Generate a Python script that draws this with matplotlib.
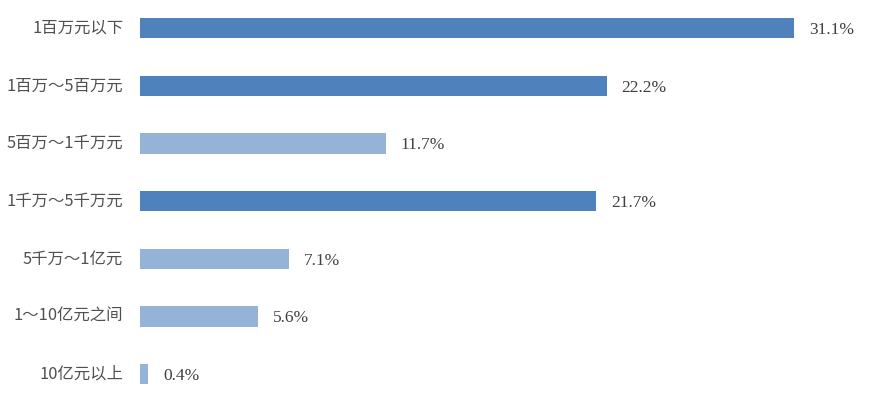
import matplotlib
matplotlib.use("Agg")
import matplotlib.pyplot as plt

# data
categories = ["1百万元以下", "1百万～5百万元", "5百万～1千万元", "1千万～5千万元",
              "5千万～1亿元", "1～10亿元之间", "10亿元以上"]
shares = [31.1, 22.2, 11.7, 21.7, 7.1, 5.6, 0.4]
highlight = [True, True, False, True, False, False, False]

dark = "#4F81BD"
light = "#95B3D7"
colors = [dark if h else light for h in highlight]

fig = plt.figure(figsize=(8.76, 3.98), dpi=100)
ax = fig.add_axes([140/876, 0, 736/876, 1])

ypos = list(range(len(categories)))
ax.barh(ypos, shares, height=0.35, color=colors, edgecolor="none")

for y, v in zip(ypos, shares):
    ax.text(v + 0.7, y + 0.03, f"{v}%", va="center", ha="left", fontsize=12.5,
            color="#404040", family=["Liberation Serif", "DejaVu Serif"])
    ax.text(-0.8, y, categories[y], va="center", ha="right", fontsize=11.8,
            color="#505050", family=["Noto Sans CJK SC", "DejaVu Sans"])

ax.set_xlim(0, 35)
ax.set_ylim(6 + 0.415, -0.49)
ax.axis("off")

fig.savefig("out.png", dpi=100)
